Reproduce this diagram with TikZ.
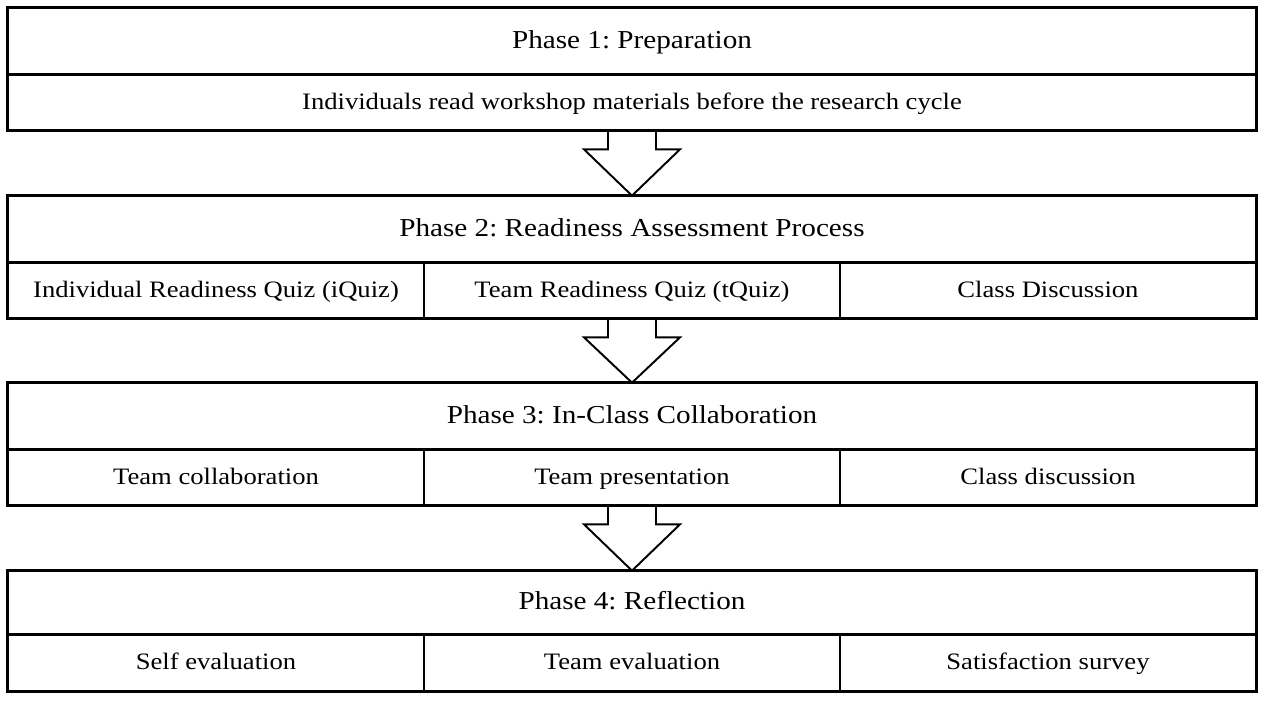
\documentclass[tikz,border=0pt]{standalone}
\usepackage{fontspec}
\setmainfont{Liberation Serif}[FakeStretch=1.13]
\usetikzlibrary{calc}
\frenchspacing

\tikzset{
  cell/.style={rectangle, inner sep=0pt, minimum width=8.32cm, minimum height=1.12cm,
    text height=0.8em, text depth=0pt, font=\fontsize{13.4}{16}\selectfont},
  head/.style={cell, minimum width=24.96cm, minimum height=1.32cm, font=\fontsize{14.7}{17}\selectfont},
  frame/.style={line width=1.7pt},
  divider/.style={line width=1.1pt},
  blockarrow/.style={line width=1.1pt, line join=miter},
}

\begin{document}
\begin{tikzpicture}[x=0.02cm, y=-0.02cm]
  \useasboundingbox (0,0) rectangle (1264,701);
  % phase 1
  \node[head] (p1) at (632,41) {Phase 1: Preparation};
  \node[cell, minimum width=24.96cm] (p1a) at (632,102) {Individuals read workshop materials before the research cycle};
  % phase 2
  \node[head] (p2) at (632,229) {Phase 2: Readiness Assessment Process};
  \node[cell] (p2a) at (216,290) {Individual Readiness Quiz (iQuiz)};
  \node[cell] (p2b) at (632,290) {Team Readiness Quiz (tQuiz)};
  \node[cell] (p2c) at (1048,290) {Class Discussion};
  % phase 3
  \node[head] (p3) at (632,416) {Phase 3: In-Class Collaboration};
  \node[cell] (p3a) at (216,477) {Team collaboration};
  \node[cell] (p3b) at (632,477) {Team presentation};
  \node[cell] (p3c) at (1048,477) {Class discussion};
  % phase 4
  \node[head, minimum height=1.26cm] (p4) at (632,602.5) {Phase 4: Reflection};
  \node[cell, minimum height=1.14cm] (p4a) at (216,662.5) {Self evaluation};
  \node[cell, minimum height=1.14cm] (p4b) at (632,662.5) {Team evaluation};
  \node[cell, minimum height=1.14cm] (p4c) at (1048,662.5) {Satisfaction survey};

  % frames
  \draw[frame] (p1.north west) rectangle (p1a.south east);
  \draw[frame] (p1.south west) -- (p1.south east);
  \draw[frame] (p2.north west) rectangle (p2c.south east);
  \draw[frame] (p2.south west) -- (p2.south east);
  \draw[divider] (p2a.north east) -- (p2a.south east);
  \draw[divider] (p2b.north east) -- (p2b.south east);
  \draw[frame] (p3.north west) rectangle (p3c.south east);
  \draw[frame] (p3.south west) -- (p3.south east);
  \draw[divider] (p3a.north east) -- (p3a.south east);
  \draw[divider] (p3b.north east) -- (p3b.south east);
  \draw[frame] (p4.north west) rectangle (p4c.south east);
  \draw[frame] (p4.south west) -- (p4.south east);
  \draw[divider] (p4a.north east) -- (p4a.south east);
  \draw[divider] (p4b.north east) -- (p4b.south east);

  % arrows
  \draw[blockarrow] ($(p1a.south)+(-24,0)$) -- ++(0,19) -- ++(-24,0) -- (p2.north)
    -- ($(p1a.south)+(48,19)$) -- ++(-24,0) -- ++(0,-19);
  \draw[blockarrow] ($(p2b.south)+(-24,0)$) -- ++(0,19) -- ++(-24,0) -- (p3.north)
    -- ($(p2b.south)+(48,19)$) -- ++(-24,0) -- ++(0,-19);
  \draw[blockarrow] ($(p3b.south)+(-24,0)$) -- ++(0,19) -- ++(-24,0) -- (p4.north)
    -- ($(p3b.south)+(48,19)$) -- ++(-24,0) -- ++(0,-19);
\end{tikzpicture}
\end{document}
